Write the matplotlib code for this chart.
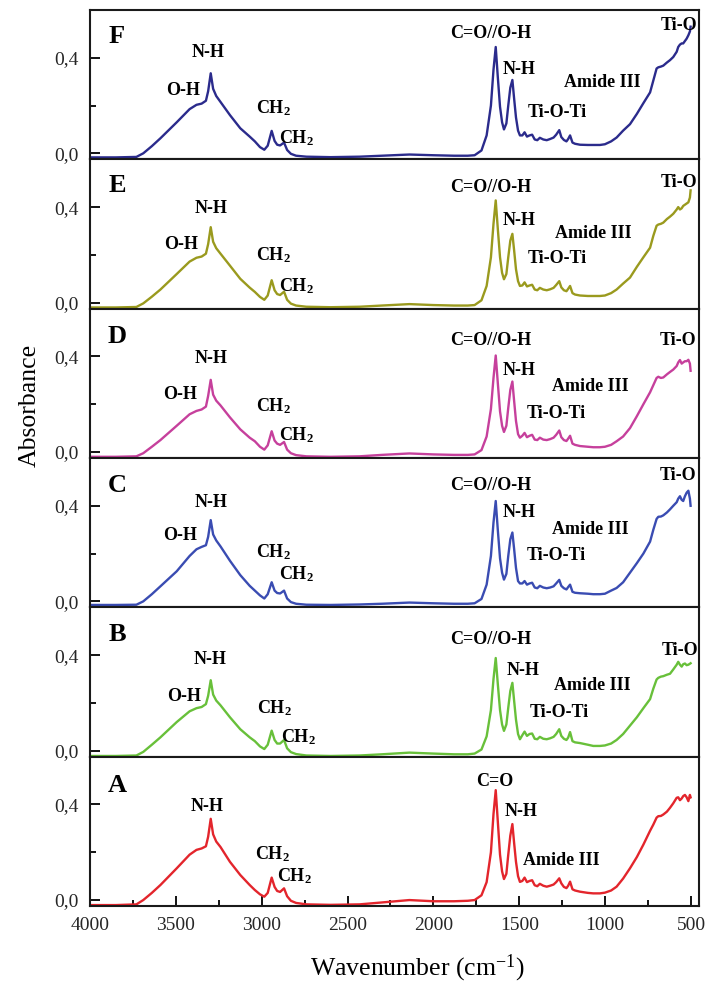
import matplotlib
matplotlib.use('Agg')
import matplotlib.pyplot as plt
from matplotlib.ticker import FixedLocator, MultipleLocator

plt.rcParams['font.family'] = ['Liberation Serif', 'DejaVu Serif']
plt.rcParams['mathtext.fontset'] = 'custom'
plt.rcParams['mathtext.rm'] = 'Liberation Serif'
plt.rcParams['mathtext.it'] = 'Liberation Serif:italic'
plt.rcParams['mathtext.bf'] = 'Liberation Serif:bold'

# ---------------- data ----------------
wavenumber = [
    4000, 3850, 3730, 3690, 3640, 3590, 3495, 3420, 3380, 3350,
    3325, 3312, 3297, 3283, 3265, 3240, 3185, 3125, 3070, 3040,
    3010, 2985, 2965, 2942, 2925, 2910, 2893, 2870, 2852, 2830,
    2800, 2740, 2600, 2430, 2300, 2140, 2000, 1880, 1800,
    1760, 1720, 1690, 1665, 1650, 1637, 1625, 1612, 1600, 1589,
    1575, 1564, 1552, 1540, 1530, 1519, 1507, 1496, 1482, 1469,
    1455, 1440, 1425, 1410, 1395, 1380, 1360, 1340, 1320, 1300,
    1285, 1267, 1255, 1240, 1225, 1215, 1204, 1190, 1175, 1146,
    1100, 1069, 1030, 1001, 965, 933, 895, 855, 815, 777,
    738, 719, 700, 690, 675, 661, 640, 622, 603, 583,
    574, 564, 554, 545, 535, 525, 515, 506, 502,
]

absorbance_A = [
    -0.021, -0.021, -0.018, 0.000, 0.030, 0.063, 0.133, 0.190, 0.210, 0.216,
    0.225, 0.265, 0.340, 0.275, 0.245, 0.222, 0.160, 0.105, 0.063, 0.042,
    0.024, 0.014, 0.030, 0.094, 0.055, 0.038, 0.034, 0.049, 0.016, -0.003,
    -0.012, -0.018, -0.020, -0.018, -0.010, 0.000, -0.005, -0.005, -0.003,
    0.000, 0.020, 0.075, 0.200, 0.360, 0.460, 0.330, 0.190, 0.120, 0.088,
    0.110, 0.190, 0.270, 0.318, 0.240, 0.160, 0.100, 0.076, 0.080, 0.094,
    0.075, 0.080, 0.083, 0.062, 0.058, 0.068, 0.060, 0.056, 0.060, 0.065,
    0.075, 0.091, 0.070, 0.055, 0.050, 0.060, 0.077, 0.045, 0.040, 0.035,
    0.030, 0.028, 0.028, 0.031, 0.040, 0.056, 0.090, 0.133, 0.180, 0.232,
    0.290, 0.316, 0.345, 0.351, 0.352, 0.358, 0.370, 0.386, 0.405, 0.428,
    0.430, 0.418, 0.425, 0.435, 0.440, 0.430, 0.414, 0.440, 0.430,
]

absorbance_B = [
    -0.022, -0.022, -0.020, -0.005, 0.025, 0.056, 0.120, 0.165, 0.178, 0.183,
    0.195, 0.230, 0.295, 0.235, 0.210, 0.190, 0.140, 0.090, 0.056, 0.040,
    0.018, 0.007, 0.025, 0.084, 0.045, 0.030, 0.030, 0.045, 0.010, -0.006,
    -0.014, -0.020, -0.022, -0.020, -0.015, -0.008, -0.012, -0.015, -0.015,
    -0.012, 0.005, 0.060, 0.170, 0.300, 0.388, 0.280, 0.170, 0.110, 0.083,
    0.110, 0.180, 0.250, 0.284, 0.210, 0.130, 0.070, 0.048, 0.065, 0.080,
    0.062, 0.070, 0.072, 0.050, 0.048, 0.058, 0.050, 0.048, 0.052, 0.058,
    0.070, 0.090, 0.062, 0.050, 0.045, 0.055, 0.078, 0.040, 0.035, 0.032,
    0.025, 0.020, 0.020, 0.022, 0.030, 0.045, 0.070, 0.105, 0.140, 0.178,
    0.216, 0.260, 0.298, 0.305, 0.310, 0.312, 0.318, 0.322, 0.340, 0.360,
    0.372, 0.360, 0.352, 0.362, 0.365, 0.358, 0.360, 0.364, 0.366,
]

absorbance_C = [
    -0.015, -0.015, -0.014, 0.000, 0.030, 0.063, 0.126, 0.190, 0.218, 0.228,
    0.235, 0.270, 0.340, 0.280, 0.255, 0.230, 0.170, 0.110, 0.065, 0.045,
    0.025, 0.012, 0.030, 0.080, 0.045, 0.035, 0.033, 0.045, 0.012, -0.003,
    -0.010, -0.014, -0.015, -0.013, -0.010, -0.005, -0.008, -0.010, -0.010,
    -0.008, 0.010, 0.070, 0.190, 0.330, 0.420, 0.300, 0.180, 0.120, 0.091,
    0.115, 0.190, 0.260, 0.288, 0.220, 0.140, 0.085, 0.075, 0.075, 0.085,
    0.070, 0.075, 0.078, 0.058, 0.055, 0.065, 0.058, 0.055, 0.058, 0.063,
    0.075, 0.090, 0.065, 0.055, 0.050, 0.060, 0.070, 0.040, 0.036, 0.034,
    0.032, 0.030, 0.030, 0.032, 0.045, 0.056, 0.080, 0.120, 0.160, 0.200,
    0.250, 0.300, 0.345, 0.354, 0.355, 0.360, 0.372, 0.385, 0.400, 0.415,
    0.430, 0.440, 0.425, 0.420, 0.440, 0.455, 0.463, 0.430, 0.400,
]

absorbance_D = [
    -0.020, -0.020, -0.018, -0.005, 0.022, 0.050, 0.110, 0.158, 0.172, 0.178,
    0.190, 0.235, 0.302, 0.240, 0.215, 0.195, 0.145, 0.095, 0.060, 0.045,
    0.022, 0.010, 0.028, 0.087, 0.048, 0.035, 0.030, 0.042, 0.010, -0.005,
    -0.013, -0.018, -0.020, -0.018, -0.012, -0.006, -0.010, -0.012, -0.012,
    -0.010, 0.008, 0.065, 0.180, 0.310, 0.404, 0.290, 0.170, 0.110, 0.084,
    0.110, 0.185, 0.260, 0.295, 0.215, 0.130, 0.075, 0.060, 0.068, 0.080,
    0.062, 0.068, 0.072, 0.052, 0.050, 0.060, 0.052, 0.050, 0.054, 0.060,
    0.072, 0.090, 0.062, 0.050, 0.046, 0.056, 0.068, 0.035, 0.030, 0.025,
    0.022, 0.020, 0.020, 0.022, 0.030, 0.045, 0.065, 0.100, 0.150, 0.200,
    0.250, 0.280, 0.310, 0.315, 0.310, 0.312, 0.325, 0.335, 0.345, 0.360,
    0.375, 0.385, 0.370, 0.375, 0.380, 0.380, 0.386, 0.370, 0.340,
]

absorbance_E = [
    -0.020, -0.020, -0.018, -0.003, 0.025, 0.055, 0.120, 0.172, 0.188, 0.193,
    0.205, 0.245, 0.316, 0.255, 0.228, 0.205, 0.155, 0.100, 0.063, 0.045,
    0.024, 0.012, 0.030, 0.094, 0.052, 0.036, 0.032, 0.046, 0.012, -0.004,
    -0.012, -0.017, -0.019, -0.017, -0.012, -0.006, -0.010, -0.012, -0.012,
    -0.010, 0.010, 0.070, 0.190, 0.330, 0.428, 0.310, 0.190, 0.125, 0.098,
    0.120, 0.190, 0.260, 0.288, 0.220, 0.140, 0.090, 0.070, 0.072, 0.085,
    0.068, 0.072, 0.075, 0.055, 0.052, 0.062, 0.055, 0.052, 0.056, 0.062,
    0.074, 0.090, 0.064, 0.052, 0.048, 0.058, 0.070, 0.040, 0.034, 0.030,
    0.028, 0.028, 0.028, 0.030, 0.040, 0.055, 0.080, 0.105, 0.150, 0.190,
    0.230, 0.280, 0.322, 0.327, 0.330, 0.335, 0.350, 0.360, 0.372, 0.390,
    0.400, 0.390, 0.395, 0.405, 0.410, 0.415, 0.420, 0.440, 0.470,
]

absorbance_F = [
    -0.017, -0.017, -0.015, 0.000, 0.030, 0.063, 0.130, 0.185, 0.203, 0.208,
    0.220, 0.260, 0.335, 0.270, 0.240, 0.215, 0.160, 0.105, 0.070, 0.050,
    0.026, 0.015, 0.032, 0.094, 0.052, 0.036, 0.033, 0.045, 0.014, -0.002,
    -0.010, -0.014, -0.016, -0.014, -0.010, -0.005, -0.008, -0.010, -0.010,
    -0.008, 0.012, 0.075, 0.200, 0.350, 0.445, 0.320, 0.195, 0.130, 0.100,
    0.125, 0.200, 0.275, 0.307, 0.230, 0.150, 0.095, 0.075, 0.075, 0.088,
    0.070, 0.075, 0.078, 0.058, 0.055, 0.065, 0.058, 0.055, 0.060, 0.066,
    0.078, 0.097, 0.068, 0.056, 0.050, 0.060, 0.075, 0.045, 0.040, 0.036,
    0.035, 0.035, 0.035, 0.038, 0.050, 0.066, 0.095, 0.122, 0.165, 0.210,
    0.255, 0.305, 0.355, 0.360, 0.363, 0.367, 0.380, 0.390, 0.403, 0.425,
    0.445, 0.455, 0.460, 0.460, 0.470, 0.480, 0.494, 0.510, 0.530,
]

panel_names = ['F', 'E', 'D', 'C', 'B', 'A']
series = {'A': absorbance_A, 'B': absorbance_B, 'C': absorbance_C,
          'D': absorbance_D, 'E': absorbance_E, 'F': absorbance_F}
colors = {'F': '#2b2b8c', 'E': '#9a9a1e', 'D': '#c6409c',
          'C': '#3a4cb2', 'B': '#68c03a', 'A': '#e3252c'}

x_ticks = [4000, 3500, 3000, 2500, 2000, 1500, 1000, 500]
x_tick_labels = ['4000', '3500', '3000', '2500', '2000', '1500', '1000', '500']
y_ticks = [0.0, 0.4]
y_tick_labels = ['0,0', '0,4']

CH2 = r'CH$_{\mathbf{2}}$'
# peak labels: (text, wavenumber, absorbance)
labels = {
    'F': [('N-H', 3311, 0.42), ('O-H', 3458, 0.265), (CH2, 2932, 0.19), (CH2, 2796, 0.065),
          ('C=O//O-H', 1665, 0.50), ('N-H', 1501, 0.35), ('Amide III', 1014, 0.295),
          ('Ti-O-Ti', 1278, 0.17), ('Ti-O', 568, 0.535)],
    'E': [('N-H', 3297, 0.395), ('O-H', 3472, 0.245), (CH2, 2932, 0.20), (CH2, 2796, 0.07),
          ('C=O//O-H', 1665, 0.48), ('N-H', 1501, 0.345), ('Amide III', 1070, 0.29),
          ('Ti-O-Ti', 1278, 0.185), ('Ti-O', 568, 0.505)],
    'D': [('N-H', 3297, 0.39), ('O-H', 3476, 0.24), (CH2, 2932, 0.194), (CH2, 2796, 0.07),
          ('C=O//O-H', 1665, 0.466), ('N-H', 1501, 0.34), ('Amide III', 1088, 0.274),
          ('Ti-O-Ti', 1284, 0.16), ('Ti-O', 574, 0.466)],
    'C': [('N-H', 3297, 0.414), ('O-H', 3476, 0.274), (CH2, 2932, 0.208), (CH2, 2796, 0.112),
          ('C=O//O-H', 1665, 0.485), ('N-H', 1501, 0.37), ('Amide III', 1088, 0.30),
          ('Ti-O-Ti', 1284, 0.19), ('Ti-O', 574, 0.527)],
    'B': [('N-H', 3301, 0.38), ('O-H', 3451, 0.225), (CH2, 2923, 0.178), (CH2, 2784, 0.056),
          ('C=O//O-H', 1665, 0.467), ('N-H', 1476, 0.336), ('Amide III', 1075, 0.272),
          ('Ti-O-Ti', 1268, 0.16), ('Ti-O', 564, 0.42)],
    'A': [('N-H', 3320, 0.393), (CH2, 2936, 0.194), (CH2, 2810, 0.098),
          ('C=O', 1645, 0.497), ('N-H', 1490, 0.37), ('Amide III', 1253, 0.167)],
}
letter_y = {'F': 0.49, 'E': 0.49, 'D': 0.485, 'C': 0.485, 'B': 0.485, 'A': 0.48}

# ---------------- figure ----------------
fig = plt.figure(figsize=(7.05, 9.86), dpi=100)
gs = fig.add_gridspec(6, 1, left=0.1277, right=0.9915, top=0.9899, bottom=0.0811, hspace=0)

axes = []
for i, name in enumerate(panel_names):
    ax = fig.add_subplot(gs[i, 0])
    axes.append(ax)
    ax.plot(wavenumber, series[name], color=colors[name], lw=1.7, solid_joinstyle='round')
    ax.set_xlim(4000, 453)
    ax.set_ylim(-0.025, 0.60)
    ax.yaxis.set_major_locator(FixedLocator(y_ticks))
    ax.set_yticklabels(y_tick_labels)
    ax.yaxis.set_minor_locator(FixedLocator([0.2]))
    ax.xaxis.set_major_locator(FixedLocator(x_ticks))
    ax.xaxis.set_minor_locator(MultipleLocator(250))
    ax.tick_params(axis='both', which='major', direction='in', length=7.5, width=1.3,
                   labelsize=14, labelcolor='#262626', pad=8)
    ax.tick_params(axis='both', which='minor', direction='in', length=4, width=1.3)
    ax.tick_params(axis='y', which='both', right=False)
    ax.tick_params(axis='x', which='both', top=False)
    if name != 'A':
        ax.tick_params(axis='x', which='both', bottom=False, labelbottom=False)
    else:
        ax.set_xticklabels(x_tick_labels)
    for sp in ax.spines.values():
        sp.set_linewidth(1.5)
        sp.set_color('#1a1a1a')
    ax.text(3843, letter_y[name], name, fontsize=19, fontweight='bold',
            ha='center', va='center')
    for txt, xw, yv in labels[name]:
        ax.text(xw, yv, txt, fontsize=13, fontweight='bold', ha='center', va='center')

fig.text(0.0426, 0.589, 'Absorbance', rotation=90, fontsize=18.5,
         ha='center', va='center')
fig.text(0.5915, 0.018, r'Wavenumber (cm$^{\mathregular{-1}}$)', fontsize=18.5,
         ha='center', va='center')

fig.savefig('out.png', dpi=100)
